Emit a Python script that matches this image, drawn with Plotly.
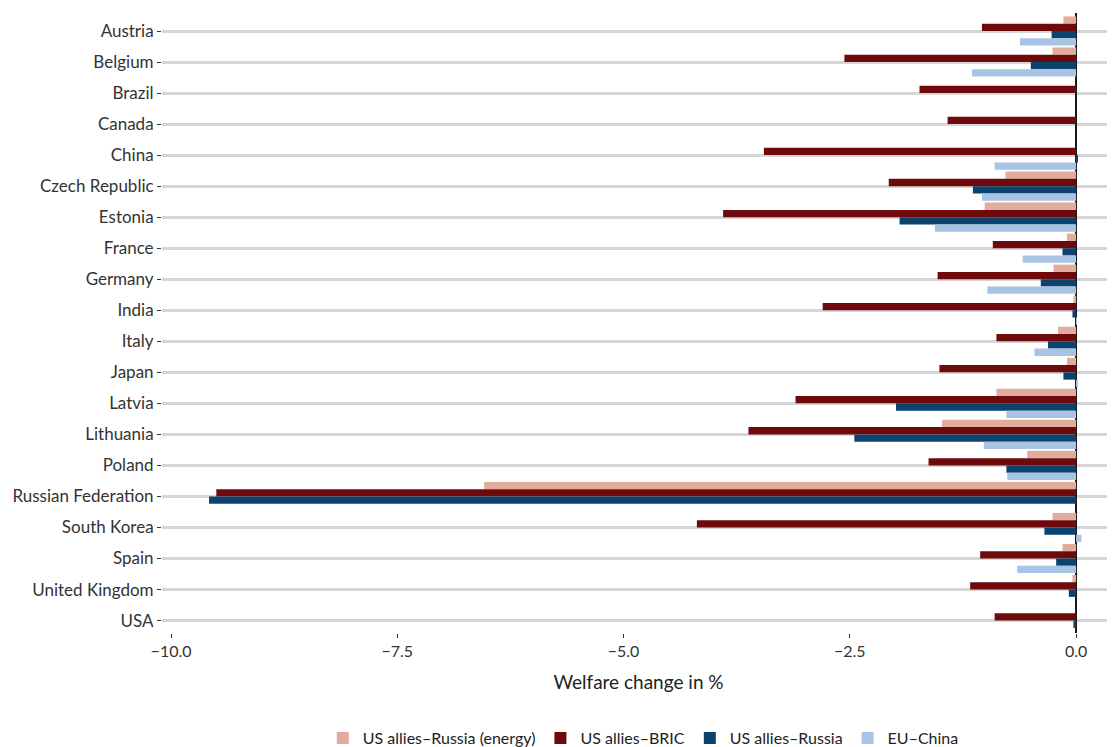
import plotly.graph_objs as go

COUNTRIES = ["Austria", "Belgium", "Brazil", "Canada", "China", "Czech Republic", "Estonia",
             "France", "Germany", "India", "Italy", "Japan", "Latvia", "Lithuania", "Poland",
             "Russian Federation", "South Korea", "Spain", "United Kingdom", "USA"]

US_RUSSIA_ENERGY = [-0.14, -0.26, 0.0, 0.0, 0.0, -0.78, -1.01, -0.10, -0.25, -0.03,
                    -0.20, -0.10, -0.88, -1.48, -0.54, -6.54, -0.26, -0.15, -0.04, 0.0]
US_BRIC = [-1.04, -2.56, -1.73, -1.42, -3.45, -2.07, -3.90, -0.92, -1.53, -2.80,
           -0.88, -1.51, -3.10, -3.62, -1.63, -9.50, -4.19, -1.06, -1.17, -0.90]
US_RUSSIA = [-0.27, -0.50, 0.0, 0.0, 0.02, -1.14, -1.95, -0.15, -0.39, -0.04,
             -0.31, -0.14, -1.99, -2.45, -0.77, -9.58, -0.35, -0.22, -0.08, -0.03]
EU_CHINA = [-0.62, -1.15, 0.0, 0.0, -0.90, -1.04, -1.56, -0.59, -0.98, 0.01,
            -0.46, 0.02, -0.77, -1.02, -0.76, 0.0, 0.06, -0.65, 0.0, 0.0]

SERIES = [("US allies–Russia (energy)", US_RUSSIA_ENERGY, "#E2AB9C"),
          ("US allies–BRIC", US_BRIC, "#6E0A0C"),
          ("US allies–Russia", US_RUSSIA, "#0B436E"),
          ("EU–China", EU_CHINA, "#A8C4E4")]

FONT = "Source Sans Pro, Lato, Roboto, sans-serif"

fig = go.Figure()
for name, vals, col in SERIES:
    fig.add_trace(go.Bar(y=COUNTRIES, x=vals, name=name, orientation="h",
                         marker=dict(color=col, line=dict(width=0))))

# page body has an 8px margin; figure is taller than the window so the
# legend is cut at the bottom edge like in the original picture
fig.update_layout(
    width=1107, height=752,
    barmode="group", bargap=0.06, bargroupgap=0,
    plot_bgcolor="white", paper_bgcolor="white",
    font=dict(family=FONT, size=17, color="#222222"),
    margin=dict(l=154, r=0, t=5, b=127),
    legend=dict(orientation="h", x=0.505, xanchor="center", y=-0.142, yanchor="top",
                font=dict(size=16), traceorder="normal"),
)

fig.update_xaxes(
    range=[-10.1, 0.43],
    tickvals=[-10, -7.5, -5, -2.5, 0],
    ticktext=["−10.0", "−7.5", "−5.0", "−2.5", "0.0"],
    showgrid=False, zeroline=True, zerolinecolor="#1a1a1a", zerolinewidth=2,
    ticks="outside", ticklen=4, tickcolor="#333333",
    title=dict(text="Welfare change in %", font=dict(size=19), standoff=16),
    tickfont=dict(size=16, color="#333333"),
)
fig.update_yaxes(
    range=[19.4, -0.58],
    showgrid=True, gridcolor="#D6D6D6", gridwidth=3,
    ticks="outside", ticklen=4, tickcolor="#333333",
    tickfont=dict(size=17, color="#333333"),
)

fig.write_html("out.html")
